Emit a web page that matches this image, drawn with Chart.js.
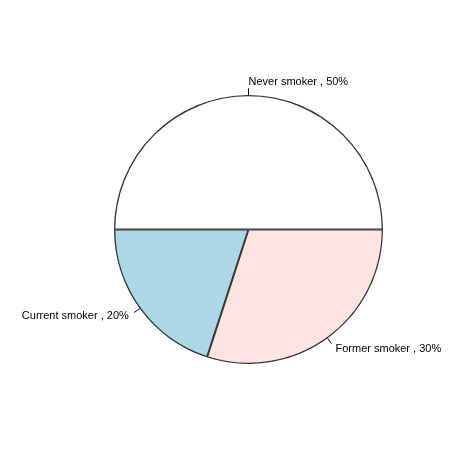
<!DOCTYPE html>
<html><head><meta charset="utf-8">
<script src="https://cdn.jsdelivr.net/npm/chart.js@4/dist/chart.umd.min.js"></script>
<style>html,body{margin:0;padding:0;background:#fff}#wrap{width:474px;height:474px}</style>
</head><body><div id="wrap"><canvas id="c"></canvas></div>
<script>
// Order drawn clockwise from 3 o'clock (R draws counter-clockwise)
const categories = ["Former smoker", "Current smoker", "Never smoker"];
const values = [30, 20, 50];
const colors = ["#FFE4E1", "#ADD8E6", "#FFFFFF"];

const labelPlugin = {
  id: 'rlabels',
  afterDatasetsDraw(chart) {
    const ctx = chart.ctx;
    const meta = chart.getDatasetMeta(0);
    ctx.save();
    ctx.strokeStyle = '#000'; ctx.lineWidth = 1;
    ctx.fillStyle = '#000';
    ctx.font = '11px "Liberation Sans", Arial, sans-serif';
    ctx.textBaseline = 'middle';
    meta.data.forEach((arc, i) => {
      const a = (arc.startAngle + arc.endAngle) / 2;
      const r = arc.outerRadius, cx = arc.x, cy = arc.y;
      const c = Math.cos(a), s = Math.sin(a);
      ctx.beginPath();
      ctx.moveTo(cx + r * c, cy + r * s);
      ctx.lineTo(cx + 1.05 * r * c, cy + 1.05 * r * s);
      ctx.stroke();
      ctx.textAlign = c > -1e-9 ? 'left' : 'right';
      ctx.fillText(categories[i] + ' , ' + values[i] + '%', cx + 1.1 * r * c, cy + 1.1 * r * s);
    });
    ctx.restore();
  }
};

new Chart(document.getElementById('c'), {
  type: 'pie',
  data: { labels: categories, datasets: [{ data: values, backgroundColor: colors, borderColor: '#333', borderWidth: 1, borderAlign: 'inner' }] },
  options: {
    responsive: true, maintainAspectRatio: false, animation: false,
    rotation: 90,
    layout: { padding: { left: 114, right: 91, top: 95, bottom: 110 } },
    plugins: { legend: { display: false }, tooltip: { enabled: false } }
  },
  plugins: [labelPlugin]
});
</script></body></html>
